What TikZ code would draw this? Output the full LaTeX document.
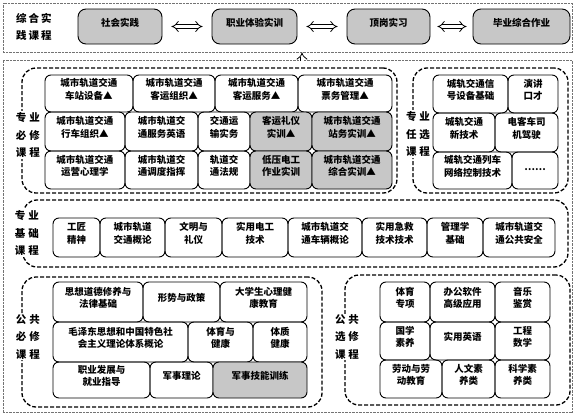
\documentclass[tikz,border=0pt]{standalone}
\usepackage{fontspec}
\newfontfamily\cjk{Noto Sans CJK SC}
\usetikzlibrary{arrows.meta,fit}

\begin{document}
\begin{tikzpicture}[x=1pt,y=-1pt,
	cell/.style={draw,rounded corners=6pt,line width=0.9pt,inner sep=0pt,align=center,font=\cjk\bfseries\fontsize{9.5}{12.5}\selectfont},
	shaded/.style={cell,fill=black!22},
	group/.style={draw,dash pattern=on 4pt off 2pt,line width=1.3pt,rounded corners=14pt,inner sep=0pt},
	frame/.style={draw,black!55,dash pattern=on 0.7pt off 0.7pt,line width=0.7pt,inner sep=0pt},
	tag/.style={fill=white,inner sep=1pt,align=center,font=\cjk\bfseries\fontsize{10.5}{17.5}\selectfont},
	dbl/.style={double,double distance=3pt,line width=0.8pt,{Implies}-{Implies},shorten <=9pt,shorten >=9pt}]
			
			\useasboundingbox (0,0) rectangle (576,415);
			
			% Outer frames
			\node[frame,fit={(3,3) (572,52)}] (practice) {};
			\node[frame,fit={(3,60) (572,412)}] (theory) {};
			
			% Practice courses
			\node[tag] (tpractice) at (34,27) {综\hspace{2pt}合\hspace{2pt}实\\践\hspace{2pt}课\hspace{2pt}程};
			\node[shaded,rounded corners=8pt,fit={(78,9) (162,44)}] (p1) {社会实践};
			\node[shaded,rounded corners=8pt,fit={(212,9) (297,44)}] (p2) {职业体验实训};
			\node[shaded,rounded corners=8pt,fit={(347,9) (430,44)}] (p3) {顶岗实习};
			\node[shaded,rounded corners=8pt,fit={(473,9) (570,44)}] (p4) {毕业综合作业};
			
			\draw[dbl] (p1) -- (p2);
			\draw[dbl] (p2) -- (p3);
			\draw[dbl,shorten <=7pt,shorten >=6pt] (p3) -- (p4);
			
			% Link up to practice
			\coordinate (foot) at (302,61);
			\draw[dbl,-{Implies},shorten <=0pt,shorten >=0pt] (foot) -- (foot |- practice.south);
			
			% Groups
			\node[group,fit={(22,68) (397,193)}] (major) {};
			\node[group,fit={(413,68) (568,193)}] (option) {};
			\node[group,fit={(23,200) (568,267)}] (basic) {};
			\node[group,fit={(22,277) (322,407)}] (public) {};
			\node[group,fit={(345,275) (570,405)}] (elective) {};
			
			% Major compulsory
			\node[cell,fit={(45,75) (133,112)}] (m1) {城市轨道交通\\车站设备▲};
			\node[cell,fit={(133,75) (215,112)}] (m2) {城市轨道交通\\客运组织▲};
			\node[cell,fit={(215,75) (298,112)}] (m3) {城市轨道交通\\客运服务▲};
			\node[cell,fit={(298,75) (392,112)}] (m4) {城市轨道交通\\票务管理▲};
			\node[cell,fit={(45,112) (125,151)}] (m5) {城市轨道交通\\行车组织▲};
			\node[cell,fit={(125,112) (198,151)}] (m6) {城市轨道交\\通服务英语};
			\node[cell,fit={(198,112) (250,151)}] (m7) {交通运\\输实务};
			\node[shaded,fit={(250,112) (312,151)}] (m8) {客运礼仪\\实训▲};
			\node[shaded,fit={(312,112) (392,151)}] (m9) {城市轨道交通\\站务实训▲};
			\node[cell,fit={(45,151) (125,189)}] (m10) {城市轨道交通\\运营心理学};
			\node[cell,fit={(125,151) (198,189)}] (m11) {城市轨道交\\通调度指挥};
			\node[cell,fit={(198,151) (250,189)}] (m12) {轨道交\\通法规};
			\node[shaded,fit={(250,151) (312,189)}] (m13) {低压电工\\作业实训};
			\node[shaded,fit={(312,151) (392,189)}] (m14) {城市轨道交通\\综合实训▲};
			
			% Major optional
			\node[cell,fit={(433,75) (508,113)}] (o1) {城轨交通信\\号设备基础};
			\node[cell,fit={(508,75) (558,113)}] (o2) {演讲\\口才};
			\node[cell,fit={(433,113) (495,152)}] (o3) {城轨交通\\新技术};
			\node[cell,fit={(495,113) (558,152)}] (o4) {电客车司\\机驾驶};
			\node[cell,fit={(433,152) (512,189)}] (o5) {城轨交通列车\\网络控制技术};
			\node[cell,fit={(512,152) (558,189)}] (o6) {……};
			
			% Major basic
			\node[cell,fit={(53,218) (100,257)}] (b1) {工匠\\精神};
			\node[cell,fit={(100,218) (165,257)}] (b2) {城市轨道\\交通概论};
			\node[cell,fit={(165,218) (222,257)}] (b3) {文明与\\礼仪};
			\node[cell,fit={(222,218) (288,257)}] (b4) {实用电工\\技术};
			\node[cell,fit={(288,218) (362,257)}] (b5) {城市轨道交\\通车辆概论};
			\node[cell,fit={(362,218) (427,257)}] (b6) {实用急救\\技术技术};
			\node[cell,fit={(427,218) (483,257)}] (b7) {管理学\\基础};
			\node[cell,fit={(483,218) (555,257)}] (b8) {城市轨道交\\通公共安全};
			
			% Public compulsory
			\node[cell,fit={(53,282) (143,322)}] (c1) {思想道德修养与\\法律基础};
			\node[cell,fit={(143,282) (220,322)}] (c2) {形势与政策};
			\node[cell,fit={(220,282) (307,322)}] (c3) {大学生心理健\\康教育};
			\node[cell,fit={(53,322) (188,362)}] (c4) {毛泽东思想和中国特色社\\会主义理论体系概论};
			\node[cell,fit={(188,322) (253,362)}] (c5) {体育与\\健康};
			\node[cell,fit={(253,322) (307,362)}] (c6) {体质\\健康};
			\node[cell,fit={(53,362) (150,398)}] (c7) {职业发展与\\就业指导};
			\node[cell,fit={(150,362) (213,398)}] (c8) {军事理论};
			\node[shaded,fit={(213,362) (307,398)}] (c9) {军事技能训练};
			
			% Public elective
			\node[cell,fit={(380,282) (430,322)}] (e1) {体育\\专项};
			\node[cell,fit={(430,282) (495,322)}] (e2) {办公软件\\高级应用};
			\node[cell,fit={(495,282) (550,322)}] (e3) {音乐\\鉴赏};
			\node[cell,fit={(380,322) (430,360)}] (e4) {国学\\素养};
			\node[cell,fit={(430,322) (495,360)}] (e5) {实用英语};
			\node[cell,fit={(495,322) (550,360)}] (e6) {工程\\数学};
			\node[cell,fit={(380,360) (442,398)}] (e7) {劳动与劳\\动教育};
			\node[cell,fit={(442,360) (495,398)}] (e8) {人文素\\养类};
			\node[cell,fit={(495,360) (550,398)}] (e9) {科学素\\养类};
			
			% Group tags
			\node[tag] (tmajor) at (28,135) {专\hspace{3pt}业\\必\hspace{3pt}修\\课\hspace{3pt}程};
			\node[tag] (toption) at (418,134) {专\hspace{3pt}业\\任\hspace{3pt}选\\课\hspace{3pt}程};
			\node[tag] (tbasic) at (27,233) {专\hspace{3pt}业\\基\hspace{3pt}础\\课\hspace{3pt}程};
			\node[tag] (tpublic) at (28,337) {公\hspace{3pt}共\\必\hspace{3pt}修\\课\hspace{3pt}程};
			\node[tag] (telective) at (347,337) {公\hspace{3pt}共\\选\hspace{3pt}修\\课\hspace{3pt}程};
			
		\end{tikzpicture}
\end{document}
